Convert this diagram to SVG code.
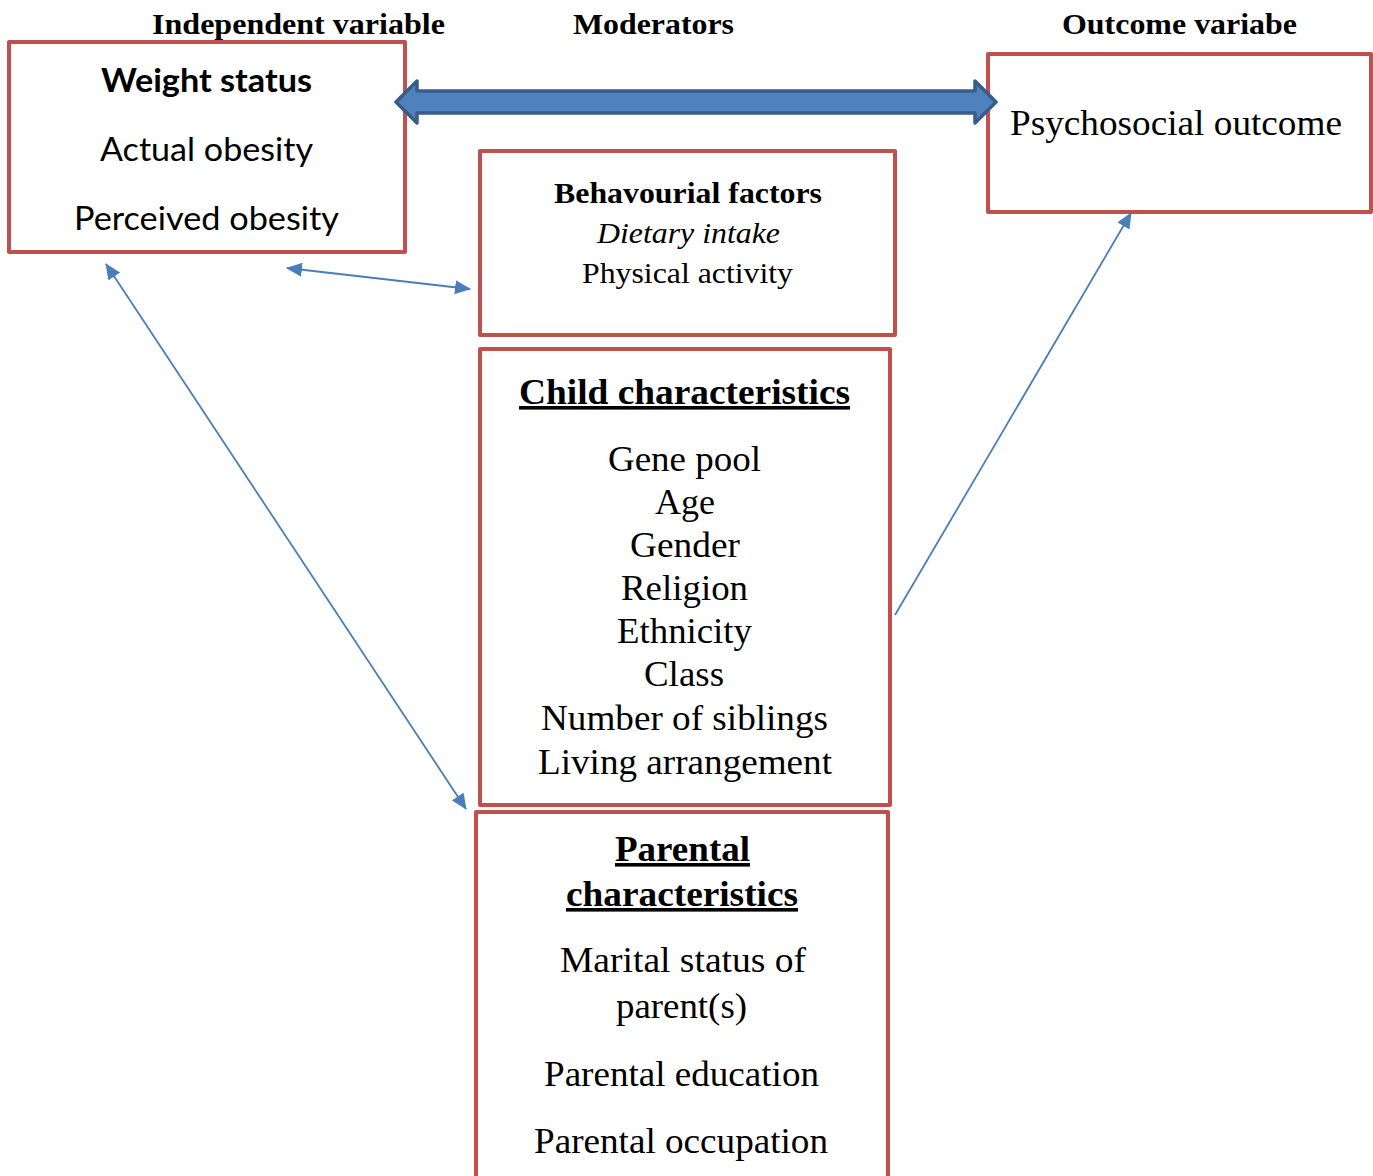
<svg xmlns="http://www.w3.org/2000/svg" width="1373" height="1176" viewBox="0 0 1373 1176">
<style>
.box{fill:#fff;stroke:#C0504D;stroke-width:4;stroke-linejoin:round;}
.serif{font-family:"Liberation Serif","Times New Roman",serif;fill:#000;text-anchor:middle;}
.sans{font-family:Lato,"Open Sans",sans-serif;fill:#000;text-anchor:middle;}
.hdr{font-size:30px;font-weight:bold;}
.ln{stroke:#4A7EBB;stroke-width:1.8;fill:none;}
</style>
<defs>
<marker id="ah" viewBox="0 0 16 14" refX="15" refY="7" markerWidth="16" markerHeight="14" markerUnits="userSpaceOnUse" orient="auto-start-reverse">
<path d="M0,0 L16,7 L0,14 z" fill="#4A7EBB"/>
</marker>
</defs>
<rect width="1373" height="1176" fill="#fff"/>
<g id="headers">
<text class="serif hdr" x="298.5" y="34" textLength="293" lengthAdjust="spacingAndGlyphs">Independent variable</text>
<text class="serif hdr" x="653.5" y="34" textLength="161" lengthAdjust="spacingAndGlyphs">Moderators</text>
<text class="serif hdr" x="1179.5" y="34" textLength="235" lengthAdjust="spacingAndGlyphs">Outcome variabe</text>
</g>
<g id="weight">
<rect class="box" x="9" y="42" width="396" height="210"/>
<text class="sans" x="206.5" y="92" font-size="33" font-weight="bold" textLength="211" lengthAdjust="spacingAndGlyphs">Weight status</text>
<text class="sans" x="206.5" y="161" font-size="33" textLength="213" lengthAdjust="spacingAndGlyphs">Actual obesity</text>
<text class="sans" x="206.5" y="230" font-size="33" textLength="265" lengthAdjust="spacingAndGlyphs">Perceived obesity</text>
</g>
<g id="outcome">
<rect class="box" x="988" y="54" width="383" height="158"/>
<text class="serif" x="1176" y="135" font-size="36" textLength="332" lengthAdjust="spacingAndGlyphs">Psychosocial outcome</text>
</g>
<g id="behaviour">
<rect class="box" x="480" y="151" width="415" height="184"/>
<text class="serif" x="688" y="203" font-size="30" font-weight="bold" textLength="268" lengthAdjust="spacingAndGlyphs">Behavourial factors</text>
<text class="serif" x="688.5" y="243" font-size="30" font-style="italic" textLength="183" lengthAdjust="spacingAndGlyphs">Dietary intake</text>
<text class="serif" x="687.5" y="283" font-size="30" textLength="211" lengthAdjust="spacingAndGlyphs">Physical activity</text>
</g>
<g id="child">
<rect class="box" x="480" y="349" width="410" height="456"/>
<text class="serif" x="684.5" y="404" font-size="36" font-weight="bold" text-decoration="underline" textLength="331" lengthAdjust="spacingAndGlyphs">Child characteristics</text>
<text class="serif" x="684.5" y="471" font-size="36" textLength="153" lengthAdjust="spacingAndGlyphs">Gene pool</text>
<text class="serif" x="685" y="514" font-size="36" textLength="60" lengthAdjust="spacingAndGlyphs">Age</text>
<text class="serif" x="685" y="557" font-size="36" textLength="110" lengthAdjust="spacingAndGlyphs">Gender</text>
<text class="serif" x="684.5" y="600" font-size="36" textLength="127" lengthAdjust="spacingAndGlyphs">Religion</text>
<text class="serif" x="684.5" y="643" font-size="36" textLength="135" lengthAdjust="spacingAndGlyphs">Ethnicity</text>
<text class="serif" x="684" y="686" font-size="36" textLength="80" lengthAdjust="spacingAndGlyphs">Class</text>
<text class="serif" x="684.5" y="730" font-size="36" textLength="287" lengthAdjust="spacingAndGlyphs">Number of siblings</text>
<text class="serif" x="685" y="774" font-size="36" textLength="294" lengthAdjust="spacingAndGlyphs">Living arrangement</text>
</g>
<g id="parental">
<rect class="box" x="476" y="812" width="412" height="370"/>
<text class="serif" x="682.5" y="861" font-size="36" font-weight="bold" text-decoration="underline" textLength="135" lengthAdjust="spacingAndGlyphs">Parental</text>
<text class="serif" x="682" y="906" font-size="36" font-weight="bold" text-decoration="underline" textLength="232" lengthAdjust="spacingAndGlyphs">characteristics</text>
<text class="serif" x="683" y="972" font-size="36" textLength="246" lengthAdjust="spacingAndGlyphs">Marital status of</text>
<text class="serif" x="681.5" y="1018" font-size="36" textLength="131" lengthAdjust="spacingAndGlyphs">parent(s)</text>
<text class="serif" x="681.5" y="1086" font-size="36" textLength="275" lengthAdjust="spacingAndGlyphs">Parental education</text>
<text class="serif" x="681" y="1153" font-size="36" textLength="294" lengthAdjust="spacingAndGlyphs">Parental occupation</text>
</g>
<g id="connectors">
<path d="M396,102 L417,81 L417,91 L975,91 L975,81 L996,102 L975,123 L975,113 L417,113 L417,123 Z" fill="#4F81BD" stroke="#385D8A" stroke-width="3.5" stroke-linejoin="round"/>
<line class="ln" x1="287" y1="268" x2="470" y2="289" marker-start="url(#ah)" marker-end="url(#ah)"/>
<line class="ln" x1="106" y1="264" x2="466" y2="809" marker-start="url(#ah)" marker-end="url(#ah)"/>
<line class="ln" x1="895" y1="615" x2="1131" y2="213" marker-end="url(#ah)"/>
</g>
</svg>
